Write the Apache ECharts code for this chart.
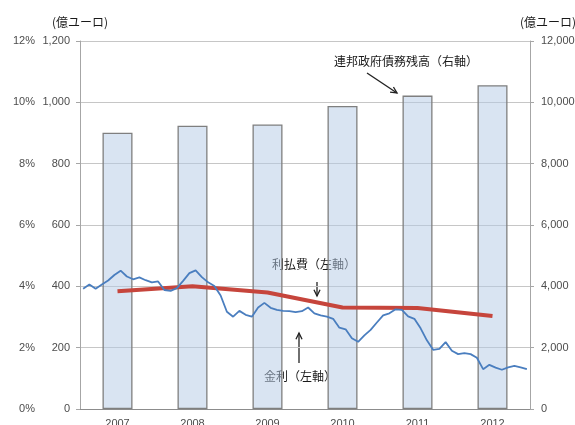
<!DOCTYPE html>
<html>
<head>
<meta charset="utf-8">
<script src="https://cdn.jsdelivr.net/npm/echarts@6/dist/echarts.min.js"></script>
<style>
  html, body { margin: 0; padding: 0; background: #fff; }
  #chart { width: 575px; height: 425px; }
</style>
</head>
<body>
<div id="chart"></div>
<script>
// 年次データ
const years = ['2007', '2008', '2009', '2010', '2011', '2012']
const debtBalance = [9010, 9240, 9280, 9880, 10220, 10560] // 連邦政府債務残高（右軸, 億ユーロ）
const interestPayments = [384, 400, 380, 331, 329, 303] // 利払費（左軸, 億ユーロ）

// 月次の金利（%）2007/1 - 2012/12
const rate2007 = [3.92, 4.06, 3.92, 4.06, 4.19, 4.37, 4.51, 4.32, 4.23, 4.29, 4.20, 4.13]
const rate2008 = [4.16, 3.88, 3.85, 3.94, 4.18, 4.43, 4.52, 4.30, 4.13, 4.01, 3.70, 3.17]
const rate2009 = [3.01, 3.20, 3.07, 3.01, 3.31, 3.46, 3.30, 3.23, 3.20, 3.19, 3.16, 3.19]
const rate2010 = [3.31, 3.12, 3.05, 3.01, 2.94, 2.65, 2.60, 2.31, 2.19, 2.40, 2.58, 2.82]
const rate2011 = [3.05, 3.12, 3.25, 3.23, 3.02, 2.94, 2.63, 2.24, 1.93, 1.96, 2.18, 1.90]
const rate2012 = [1.79, 1.82, 1.79, 1.67, 1.30, 1.44, 1.35, 1.28, 1.36, 1.41, 1.36, 1.30]
const interestRate = [...rate2007, ...rate2008, ...rate2009, ...rate2010, ...rate2011, ...rate2012]

const months = []
years.forEach((y) => {
  for (let m = 1; m <= 12; m++) months.push(y + '/' + m)
})

const labelFont = 'Liberation Sans'
const jpFont = 'Noto Sans CJK JP'
const gridColor = '#c6c6c6'
const labelColor = '#4d4d4d'

const arrow = (x1, y1, x2, y2) => {
  const a = Math.atan2(y2 - y1, x2 - x1)
  const len = 7
  const spread = 0.45
  return {
    type: 'group',
    children: [
      { type: 'line', shape: { x1, y1, x2, y2 }, style: { stroke: '#222', lineWidth: 1.3 } },
      {
        type: 'polyline',
        shape: {
          points: [
            [x2 - len * Math.cos(a - spread), y2 - len * Math.sin(a - spread)],
            [x2, y2],
            [x2 - len * Math.cos(a + spread), y2 - len * Math.sin(a + spread)],
          ],
        },
        style: { stroke: '#222', lineWidth: 1.3, fill: 'none' },
      },
    ],
  }
}

const noteText = (x, y, text) => ({
  type: 'text',
  x,
  y,
  style: {
    text,
    fontFamily: jpFont,
    fontSize: 12,
    fill: '#1a1a1a',
    align: 'center',
    verticalAlign: 'middle',
  },
})

const chart = echarts.init(document.getElementById('chart'))

chart.setOption({
  backgroundColor: '#fff',
  animation: false,
  grid: { left: 80, right: 45, top: 41, bottom: 16, outerBoundsMode: 'none' },
  xAxis: [
    {
      type: 'category',
      data: years,
      boundaryGap: true,
      axisLine: { lineStyle: { color: '#8c8c8c' } },
      axisTick: { length: 5, lineStyle: { color: '#8c8c8c' } },
      axisLabel: { color: labelColor, fontFamily: labelFont, fontSize: 11, margin: 9 },
      splitLine: { show: false },
    },
    {
      type: 'category',
      data: months,
      boundaryGap: true,
      show: false,
    },
  ],
  yAxis: [
    {
      type: 'value',
      position: 'left',
      min: 0,
      max: 1200,
      interval: 200,
      axisLine: { show: true, lineStyle: { color: '#a6a6a6' } },
      axisTick: { show: true, length: 4, lineStyle: { color: '#a6a6a6' } },
      axisLabel: {
        color: labelColor,
        fontFamily: labelFont,
        fontSize: 11,
        margin: 10,
        formatter: (v) => v.toLocaleString('en-US'),
      },
      splitLine: { lineStyle: { color: gridColor } },
      name: '(億ユーロ)',
      nameLocation: 'end',
      nameGap: 13,
      nameTextStyle: { fontFamily: jpFont, fontSize: 12, color: '#1a1a1a', align: 'center', padding: [0, 0, 0, 0] },
    },
    {
      type: 'value',
      position: 'left',
      offset: 35,
      min: 0,
      max: 12,
      interval: 2,
      axisLine: { show: false },
      axisTick: { show: false },
      axisLabel: { color: labelColor, fontFamily: labelFont, fontSize: 11, margin: 10, formatter: '{value}%' },
      splitLine: { show: false },
    },
    {
      type: 'value',
      position: 'right',
      min: 0,
      max: 12000,
      interval: 2000,
      axisLine: { show: true, lineStyle: { color: '#a6a6a6' } },
      axisTick: { show: true, length: 4, lineStyle: { color: '#a6a6a6' } },
      axisLabel: {
        color: labelColor,
        fontFamily: labelFont,
        fontSize: 11,
        margin: 11,
        formatter: (v) => v.toLocaleString('en-US'),
      },
      splitLine: { show: false },
      name: '(億ユーロ)',
      nameLocation: 'end',
      nameGap: 13,
      nameTextStyle: { fontFamily: jpFont, fontSize: 12, color: '#1a1a1a', align: 'right', padding: [0, -46, 0, 0] },
    },
  ],
  series: [
    {
      name: '連邦政府債務残高（右軸）',
      type: 'bar',
      xAxisIndex: 0,
      yAxisIndex: 2,
      data: debtBalance,
      barWidth: 30,
      itemStyle: {
        color: 'rgba(180, 202, 230, 0.5)',
        borderColor: '#7f7f7f',
        borderWidth: 1.3,
      },
      z: 1,
    },
    {
      name: '利払費（左軸）',
      type: 'line',
      xAxisIndex: 0,
      yAxisIndex: 0,
      data: interestPayments,
      symbol: 'none',
      lineStyle: { color: '#c6453c', width: 4 },
      z: 3,
    },
    {
      name: '金利（左軸）',
      type: 'line',
      xAxisIndex: 1,
      yAxisIndex: 1,
      data: interestRate,
      symbol: 'none',
      lineStyle: { color: '#4a7ebf', width: 1.8 },
      z: 4,
    },
  ],
  graphic: [
    noteText(406, 61, '連邦政府債務残高（右軸）'),
    arrow(367, 73, 397, 93),
    noteText(314, 264, '利払費（左軸）'),
    arrow(317, 282, 317, 296),
    noteText(300, 376, '金利（左軸）'),
    arrow(299, 363, 299, 333),
  ],
})
</script>
</body>
</html>
